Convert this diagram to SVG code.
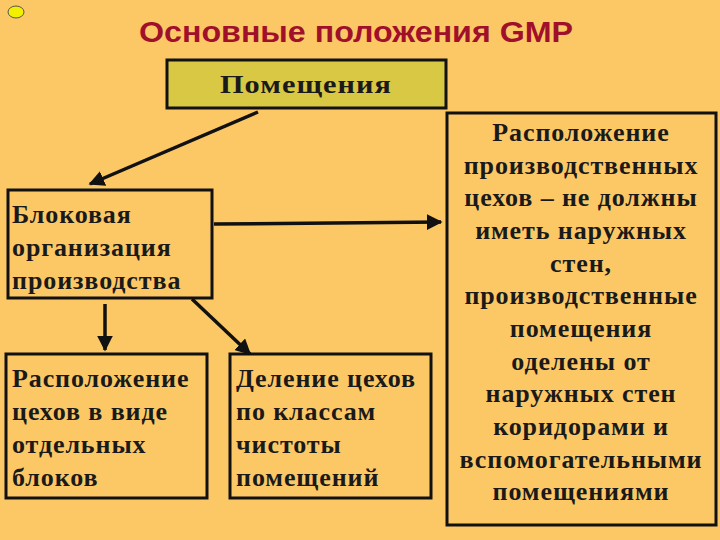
<svg xmlns="http://www.w3.org/2000/svg" width="720" height="540" viewBox="0 0 720 540">
<defs>
<marker id="ah" viewBox="0 0 10 10" refX="9" refY="5" markerWidth="4.5" markerHeight="4.5" orient="auto"><path d="M0,0 L10,5 L0,10 z" fill="#111"/></marker>
<style>
.b{fill:none;stroke:#111;stroke-width:3}
.t{font-family:"Liberation Serif",serif;font-size:26px;font-weight:bold;fill:#1a1a1a;letter-spacing:0.9px}
.c{stroke:#111;stroke-width:3.5;fill:none;marker-end:url(#ah)}
</style>
</defs>
<rect width="720" height="540" fill="#fcc865"/>
<ellipse cx="16" cy="12" rx="8" ry="6" fill="#f2f000" stroke="#555" stroke-width="1"/>
<text x="356" y="42" text-anchor="middle" font-family="Liberation Sans,sans-serif" font-weight="bold" font-size="29" fill="#a0102a" textLength="434" lengthAdjust="spacingAndGlyphs">Основные положения GMP</text>
<g id="n1"><rect x="167" y="60" width="279" height="48" fill="#d9c843" stroke="#111" stroke-width="3"/><text class="t" x="306" y="93" text-anchor="middle" textLength="172" lengthAdjust="spacingAndGlyphs">Помещения</text></g>
<g id="n2"><rect class="b" x="8" y="190" width="204" height="108"/><text class="t" x="12" y="223">Блоковая</text><text class="t" x="12" y="256">организация</text><text class="t" x="12" y="289">производства</text></g>
<g id="n3"><rect class="b" x="6" y="354" width="201" height="144"/><text class="t" x="12" y="387">Расположение</text><text class="t" x="12" y="420">цехов в виде</text><text class="t" x="12" y="453">отдельных</text><text class="t" x="12" y="486">блоков</text></g>
<g id="n4"><rect class="b" x="230" y="354" width="201" height="144"/><text class="t" x="236" y="387">Деление цехов</text><text class="t" x="236" y="420">по классам</text><text class="t" x="236" y="453">чистоты</text><text class="t" x="236" y="486">помещений</text></g>
<g id="n5"><rect class="b" x="447" y="113" width="269" height="412"/>
<g text-anchor="middle"><text class="t" x="581" y="141">Расположение</text><text class="t" x="581" y="174">производственных</text><text class="t" x="581" y="206">цехов – не должны</text><text class="t" x="581" y="239">иметь наружных</text><text class="t" x="581" y="272">стен,</text><text class="t" x="581" y="304">производственные</text><text class="t" x="581" y="337">помещения</text><text class="t" x="581" y="370">оделены от</text><text class="t" x="581" y="402">наружных стен</text><text class="t" x="581" y="435">коридорами и</text><text class="t" x="581" y="468">вспомогательными</text><text class="t" x="581" y="500">помещениями</text></g></g>
<g id="connectors">
<line class="c" x1="258" y1="112" x2="90" y2="184"/>
<line class="c" x1="214" y1="224" x2="441" y2="222"/>
<line class="c" x1="105" y1="304" x2="105" y2="350"/>
<line class="c" x1="192" y1="299" x2="250" y2="354"/>
</g>
</svg>
